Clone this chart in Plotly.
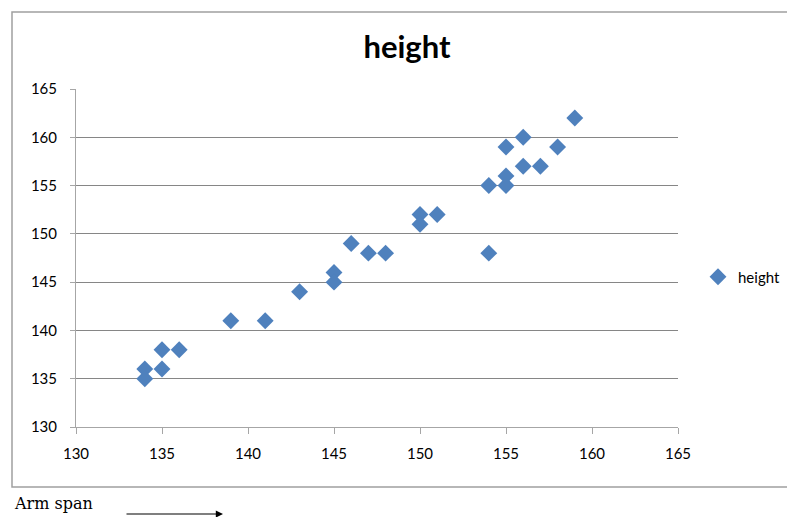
import plotly.graph_objects as go

arm_span = [134, 134, 135, 135, 136, 139, 141, 143, 145, 145, 146, 147, 148,
            150, 150, 151, 154, 154, 155, 155, 155, 156, 156, 157, 158, 159]
height = [136, 135, 138, 136, 138, 141, 141, 144, 146, 145, 149, 148, 148,
          152, 151, 152, 155, 148, 159, 156, 155, 160, 157, 157, 159, 162]
tick_vals = [130, 135, 140, 145, 150, 155, 160, 165]

W, H = 787, 517
L, R, T, B = 76, 678, 89, 427

def px(x):
    return (x - L) / (R - L)

def py(y):
    return (B - y) / (B - T)

fig = go.Figure()
fig.add_trace(go.Scatter(
    x=arm_span, y=height, mode="markers", name="height",
    marker=dict(symbol="diamond", size=13, color="#4F81BD",
                line=dict(width=0)),
))

axis_common = dict(
    range=[130, 165], tickvals=tick_vals, showline=True, linecolor="#A6A6A6",
    linewidth=1, ticks="outside", tickcolor="#A6A6A6", zeroline=False,
    tickfont=dict(family="Lato", size=15, color="#000000"),
)
fig.update_xaxes(**axis_common, showgrid=False, ticklen=6, ticklabelstandoff=7)
fig.update_yaxes(**axis_common, showgrid=True, gridcolor="#868686", gridwidth=1,
                 ticklen=5, ticklabelstandoff=10)

fig.update_layout(
    width=W, height=H,
    margin=dict(l=L, r=W - R, t=T, b=H - B, autoexpand=False),
    paper_bgcolor="white", plot_bgcolor="white",
    title=dict(text="<b>height</b>", x=407 / W, xanchor="center",
               y=1 - 47 / H, yanchor="middle",
               font=dict(family="Lato", size=31, color="#000000")),
    showlegend=True,
    legend=dict(x=px(698), xanchor="left", y=py(277), yanchor="middle",
                font=dict(family="Lato", size=15, color="#000000"),
                bgcolor="rgba(0,0,0,0)", itemwidth=30),
    shapes=[dict(type="rect", xref="paper", yref="paper",
                 x0=px(12), x1=px(795), y0=py(487), y1=py(12),
                 line=dict(color="#A0A0A0", width=1.5))],
    annotations=[
        dict(text="Arm span", xref="paper", yref="paper", x=px(12), y=py(503),
             xanchor="left", yanchor="middle", showarrow=False,
             font=dict(family="DejaVu Serif", size=16, color="#000000")),
        dict(text="", xref="paper", yref="paper", x=px(223), y=py(514),
             ax=-98, ay=0, showarrow=True, arrowhead=2, arrowsize=1.2,
             arrowwidth=1.2, arrowcolor="#000000"),
    ],
)

fig.write_html("out.html", config={"displayModeBar": False},
               post_script="document.body.style.margin='0';document.body.style.overflow='hidden';")
